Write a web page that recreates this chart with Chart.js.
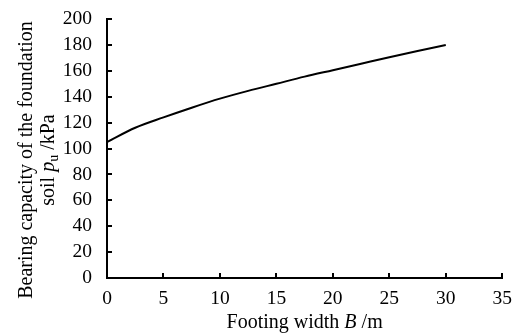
<!DOCTYPE html>
<html lang="en">
<head>
    <meta charset="UTF-8">
    <title>Bearing capacity vs footing width</title>
    <script src="https://cdn.jsdelivr.net/npm/chart.js"></script>
    <style>
        html, body { margin: 0; padding: 0; background: #fff; }
        #chart { display: block; }
    </style>
</head>
<body>
    <canvas id="chart" width="521" height="334"></canvas>

    <script>
        // values
        const widthB = [0, 2.5, 5, 7.5, 10, 12.5, 15, 17.5, 20, 22.5, 25, 27.5, 30];
        const bearingPu = [105, 116, 124, 131.5, 138.5, 144.5, 150, 155.5, 160.5, 165.5, 170.5, 175.3, 180];

        const xTicks = [0, 5, 10, 15, 20, 25, 30, 35];
        const yTicks = [0, 20, 40, 60, 80, 100, 120, 140, 160, 180, 200];

        const FONT = '"Liberation Serif", "Times New Roman", serif';
        const FS = 19.5;
        const TITLE_FS = 20;

        // draw a line of text made of runs (italic / subscript pieces), centred on x
        function drawRuns(ctx, runs, cx, cy) {
            const fontOf = r => (r.italic ? 'italic ' : '') + (r.sub ? Math.round(TITLE_FS * 0.7) : TITLE_FS) + 'px ' + FONT;
            let total = 0;
            runs.forEach(r => { ctx.font = fontOf(r); total += ctx.measureText(r.t).width; });
            let x = cx - total / 2;
            ctx.textBaseline = 'alphabetic';
            ctx.textAlign = 'left';
            runs.forEach(r => {
                ctx.font = fontOf(r);
                ctx.fillText(r.t, x, cy + (r.sub ? 4 : 0));
                x += ctx.measureText(r.t).width;
            });
        }

        const axisExtras = {
            id: 'axisExtras',
            afterDraw(chart) {
                const ctx = chart.ctx;
                const xs = chart.scales.x, ys = chart.scales.y;
                const area = chart.chartArea;
                ctx.save();
                ctx.strokeStyle = '#000';
                ctx.lineWidth = 2;
                // inward tick marks
                ctx.beginPath();
                xTicks.forEach(v => {
                    const px = Math.round(xs.getPixelForValue(v));
                    ctx.moveTo(px, area.bottom);
                    ctx.lineTo(px, area.bottom - 5);
                });
                yTicks.forEach(v => {
                    const py = Math.round(ys.getPixelForValue(v));
                    ctx.moveTo(area.left, py);
                    ctx.lineTo(area.left + 5, py);
                });
                ctx.stroke();

                ctx.fillStyle = '#000';
                // x title
                drawRuns(ctx, [
                    { t: 'Footing width ' },
                    { t: 'B', italic: true },
                    { t: ' /m' }
                ], (area.left + area.right) / 2, 328);

                // y title, two lines, rotated
                ctx.translate(0, 160);
                ctx.rotate(-Math.PI / 2);
                drawRuns(ctx, [{ t: 'Bearing capacity of the foundation' }], 0, 32);
                drawRuns(ctx, [
                    { t: 'soil ' },
                    { t: 'p', italic: true },
                    { t: 'u', sub: true },
                    { t: ' /kPa' }
                ], 0, 54);
                ctx.restore();
            }
        };

        new Chart(document.getElementById('chart'), {
            type: 'line',
            data: {
                datasets: [{
                    data: widthB.map((b, i) => ({ x: b, y: bearingPu[i] })),
                    borderColor: '#000',
                    borderWidth: 2,
                    pointRadius: 0,
                    fill: false,
                    cubicInterpolationMode: 'monotone'
                }]
            },
            options: {
                responsive: false,
                animation: false,
                layout: { padding: { top: 19, right: 16 } },
                plugins: {
                    legend: { display: false },
                    tooltip: { enabled: false }
                },
                scales: {
                    x: {
                        type: 'linear',
                        min: 0,
                        max: 35,
                        afterFit: s => { s.height = 56; },
                        afterBuildTicks: s => { s.ticks = xTicks.map(v => ({ value: v })); },
                        grid: { display: false, drawTicks: false },
                        border: { display: true, color: '#000', width: 2 },
                        ticks: { color: '#000', padding: 9, autoSkip: false, maxRotation: 0, font: { family: FONT, size: FS } }
                    },
                    y: {
                        min: 0,
                        max: 200,
                        afterFit: s => { s.width = 107; s.paddingTop = 0; s.paddingBottom = 0; },
                        afterBuildTicks: s => { s.ticks = yTicks.map(v => ({ value: v })); },
                        grid: { display: false, drawTicks: false },
                        border: { display: true, color: '#000', width: 2 },
                        ticks: { color: '#000', padding: 15, autoSkip: false, font: { family: FONT, size: FS } }
                    }
                }
            },
            plugins: [axisExtras]
        });
    </script>
</body>
</html>
